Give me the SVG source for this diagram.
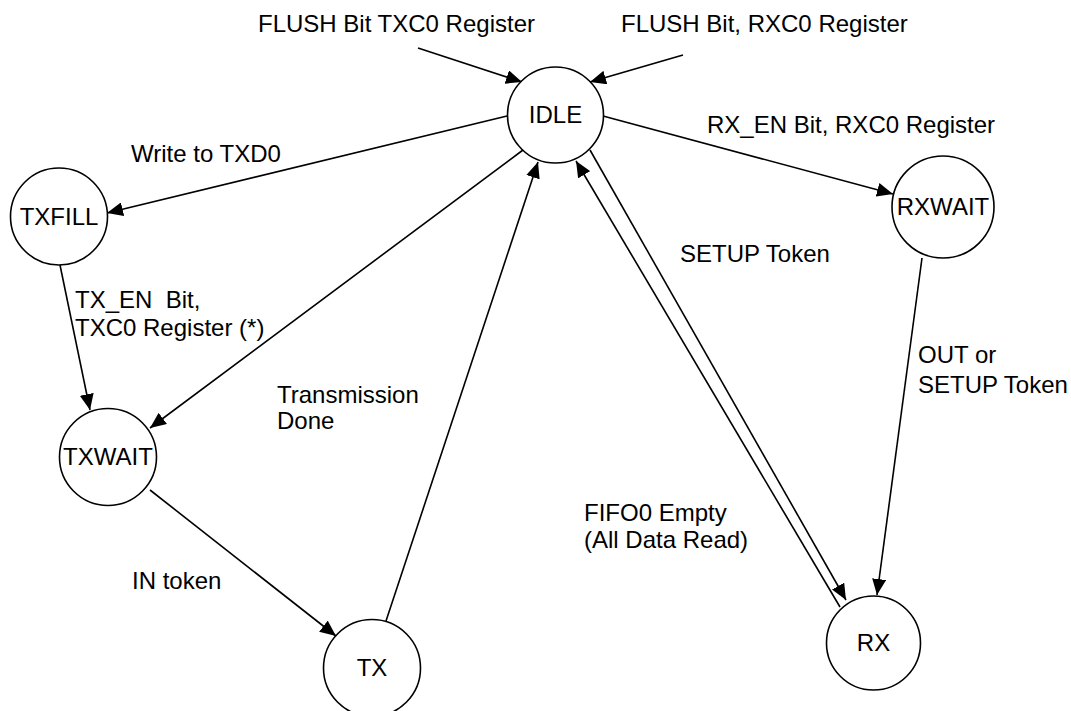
<svg xmlns="http://www.w3.org/2000/svg" width="1071" height="711" viewBox="0 0 1071 711">
<style>
.n{fill:#fff;stroke:#000;stroke-width:1.6}
.t{font-family:"Liberation Sans",Arial,sans-serif;font-size:24px;fill:#000}
.c{text-anchor:middle}
.e{stroke:#000;stroke-width:1.6;fill:none;marker-end:url(#ah)}
</style>
<defs>
<marker id="ah" markerUnits="userSpaceOnUse" markerWidth="18" markerHeight="14" refX="16" refY="7" orient="auto">
<path d="M0,0 L16,7 L0,14 Z" fill="#000"/>
</marker>
</defs>
<rect width="1071" height="711" fill="#fff"/>
<g id="connectors">
<line class="e" x1="418" y1="48" x2="522" y2="82"/>
<line class="e" x1="683" y1="55" x2="590" y2="82"/>
<line class="e" x1="507" y1="116" x2="107" y2="213"/>
<line class="e" x1="603" y1="116" x2="893" y2="194"/>
<line class="e" x1="60" y1="265" x2="90" y2="410"/>
<line class="e" x1="523" y1="150" x2="150" y2="428"/>
<line class="e" x1="150" y1="490" x2="336" y2="636"/>
<line class="e" x1="386" y1="621" x2="538" y2="162"/>
<line class="e" x1="590" y1="150" x2="846" y2="600"/>
<line class="e" x1="840" y1="607" x2="576" y2="161"/>
<line class="e" x1="922" y1="258" x2="877" y2="595"/>
</g>
<g id="IDLE"><circle class="n" cx="555.5" cy="115" r="48"/><text class="t c" x="555.5" y="123">IDLE</text></g>
<g id="TXFILL"><circle class="n" cx="59" cy="216.5" r="48.5"/><text class="t c" x="59" y="225">TXFILL</text></g>
<g id="TXWAIT"><circle class="n" cx="108" cy="457" r="48.5"/><text class="t c" x="108" y="465">TXWAIT</text></g>
<g id="TX"><circle class="n" cx="372" cy="668" r="48.5"/><text class="t c" x="372" y="676">TX</text></g>
<g id="RX"><circle class="n" cx="873.5" cy="643" r="47"/><text class="t c" x="873.5" y="651">RX</text></g>
<g id="RXWAIT"><circle class="n" cx="943" cy="207" r="51"/><text class="t c" x="943" y="215">RXWAIT</text></g>
<g id="labels">
<text class="t" x="258" y="32">FLUSH Bit TXC0 Register</text>
<text class="t" x="621" y="32">FLUSH Bit, RXC0 Register</text>
<text class="t" x="131" y="162">Write to TXD0</text>
<text class="t" x="707" y="133">RX_EN Bit, RXC0 Register</text>
<text class="t" x="680" y="262">SETUP Token</text>
<text class="t" x="75" y="308" xml:space="preserve">TX_EN  Bit,</text>
<text class="t" x="75" y="336">TXC0 Register (*)</text>
<text class="t" x="918" y="363">OUT or</text>
<text class="t" x="918" y="393">SETUP Token</text>
<text class="t" x="277" y="403">Transmission</text>
<text class="t" x="277" y="429">Done</text>
<text class="t" x="584" y="521">FIFO0 Empty</text>
<text class="t" x="584" y="548">(All Data Read)</text>
<text class="t" x="132" y="589">IN token</text>
</g>
</svg>
